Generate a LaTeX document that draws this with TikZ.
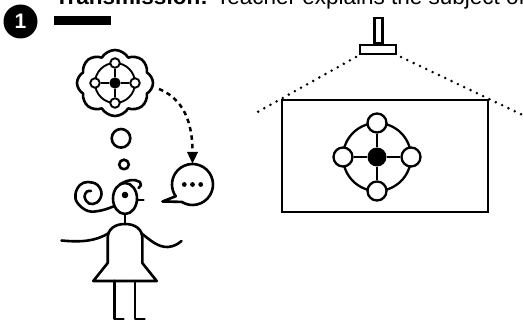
\documentclass[tikz,border=0pt]{standalone}
\usepackage{fontspec}
\newfontfamily\headfont{Liberation Sans}
\usetikzlibrary{shapes.symbols,arrows.meta,calc}
\begin{document}
\begin{tikzpicture}[x=1pt,y=1pt,
  ink/.style={line width=2.6pt, line join=round, line cap=round},
  bignode/.style={circle, draw, fill=white, line width=2.3pt, minimum size=19pt, inner sep=0pt},
  bighub/.style={circle, fill=black, minimum size=19pt, inner sep=0pt},
  smallnode/.style={circle, draw, fill=white, line width=1.9pt, minimum size=9.5pt, inner sep=0pt},
  smallhub/.style={circle, fill=black, minimum size=11.3pt, inner sep=0pt},
  beam/.style={line width=2.8pt, line cap=round, dash pattern=on 0pt off 7pt},
  bubbledot/.style={circle, fill=black, minimum size=4.8pt, inner sep=0pt},
]
\useasboundingbox (0,0) rectangle (523,-323);
\clip (0,0) rectangle (523,-323);

% heading line
\node[anchor=base west, inner sep=0pt, font=\headfont\fontsize{22.5}{24}\selectfont] (title) at (55,-5)
  {\textbf{Transmission:} Teacher explains the subject of};

% step badge and bar
\node[circle, fill=black, minimum size=34pt, inner sep=0pt, text=white,
      font=\headfont\bfseries\fontsize{21}{21}\selectfont] (badge) at (20.5,-21.5) {1};
\node[fill=black, minimum width=57pt, minimum height=9pt, inner sep=0pt, anchor=north west] (bar) at (54,-16) {};

% projector
\node[draw, line width=2.1pt, minimum width=8pt, minimum height=25pt, inner sep=0pt] (stem) at (378.5,-30.5) {};
\node[draw, line width=2.1pt, minimum width=36pt, minimum height=9pt, inner sep=0pt] (base) at (378,-49.5) {};

% screen
\node[draw, line width=2.5pt, minimum width=205.6pt, minimum height=111.6pt, inner sep=0pt] (screen) at (385,-156) {};

% light beams
\coordinate (bl) at (356,-57);
\coordinate (br) at (401,-57);
\draw[beam] (bl) -- ($(bl)!1.31!(screen.north west)$);
\draw[beam] (br) -- ($(br)!1.39!(screen.north east)$);

% graph on screen
\coordinate (sc) at (377,-157);
\draw[line width=2.3pt] (sc) circle[radius=34];
\node[bighub] (s0) at (sc) {};
\node[bignode] (s1) at ($(sc)+(0,34)$) {};
\node[bignode] (s2) at ($(sc)+(34,0)$) {};
\node[bignode] (s3) at ($(sc)+(0,-34)$) {};
\node[bignode] (s4) at ($(sc)+(-34,0)$) {};
\foreach \n in {s1,s2,s3,s4} \draw[line width=2.3pt] (s0) -- (\n);

% thought cloud with graph
\node[cloud, draw, ink, cloud puffs=8, cloud puff arc=120, aspect=1.15,
      minimum width=76pt, minimum height=66pt, inner sep=0pt] (thought) at (115,-83) {};
\coordinate (tc) at (115,-83);
\draw[line width=1.9pt] (tc) circle[radius=20];
\node[smallhub] (t0) at (tc) {};
\node[smallnode] (t1) at ($(tc)+(0,20)$) {};
\node[smallnode] (t2) at ($(tc)+(20,0)$) {};
\node[smallnode] (t3) at ($(tc)+(0,-20)$) {};
\node[smallnode] (t4) at ($(tc)+(-20,0)$) {};
\foreach \n in {t1,t2,t3,t4} \draw[line width=1.9pt] (t0) -- (\n);

% thought bubbles
\node[circle, draw, ink, minimum size=18.6pt, inner sep=0pt] (tb1) at (121,-138.3) {};
\node[circle, draw, ink, minimum size=9.6pt, inner sep=0pt] (tb2) at (124,-164.5) {};

% speech bubble
\node[circle, minimum size=41pt, inner sep=0pt] (bubble) at (192.5,-184.5) {};
\coordinate (tail) at (162.5,-201.5);
\draw[ink] ($(bubble.center)+(238:20.5)$) arc[start angle=238, end angle=575, radius=20.5] -- (tail) -- cycle;
\node[bubbledot] (d1) at ($(bubble.center)+(-8.2,0)$) {};
\node[bubbledot] (d2) at (bubble.center) {};
\node[bubbledot] (d3) at ($(bubble.center)+(8.2,0)$) {};

% dashed arrow from the thought to the speech
\coordinate (from) at (159,-89);
\draw[line width=2.5pt, dash pattern=on 4.5pt off 4pt, -{Triangle[length=12pt,width=10.5pt]}]
  (from) to[out=-22, in=90] (bubble.north);

% the teacher
\draw[ink] (125,-198.5) ellipse[x radius=12, y radius=15.5];
\fill (125,-195) circle[radius=3.3];
\draw[ink] (120,-184.5) .. controls (126,-180) and (135,-178.5) .. (140,-182)
  .. controls (142,-184) and (141,-187) .. (138.5,-188);
\draw[ink] (137,-200) -- (143.5,-200);
\draw[ink] plot[smooth, tension=0.65] coordinates {(113.3,-206.5) (101,-210.5) (88,-211) (77.5,-203) (75.5,-194) (80,-185) (88,-182) (97.5,-185) (101.5,-194) (97,-202.5) (89,-203.5) (84.5,-197) (87,-191.5) (91,-191)};
\draw[ink] (125,-214) -- (125,-224);
\draw[ink] (107.7,-263) -- (107.7,-238) .. controls (107.7,-229) and (115,-224) .. (125,-224)
  .. controls (135,-224) and (142.3,-229) .. (142.3,-238) -- (142.3,-263)
  -- (156.7,-281) -- (93.3,-281) -- cycle;
\draw[ink] (109,-233) .. controls (96,-241) and (82,-242.5) .. (61.5,-240.5);
\draw[ink] (141,-233) .. controls (150,-240) and (158,-247.5) .. (168,-247)
  .. controls (174,-246.5) and (178,-244) .. (181.5,-241);
\draw[ink] (114.3,-281) -- (114.3,-319) -- (123.5,-319);
\draw[ink] (135,-281) -- (135,-319) -- (144.5,-319);
\end{tikzpicture}
\end{document}
